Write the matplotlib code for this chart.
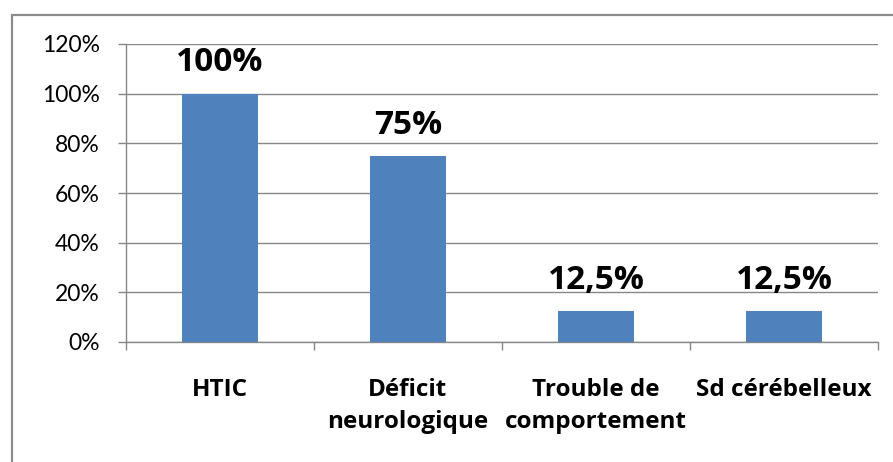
import matplotlib.pyplot as plt
from matplotlib.patches import Rectangle
from matplotlib.ticker import FixedLocator, PercentFormatter

categories = ["HTIC", "Déficit\nneurologique", "Trouble de\ncomportement", "Sd cérébelleux"]
values = [100, 75, 12.5, 12.5]
labels = ["100%", "75%", "12,5%", "12,5%"]

plt.rcParams['font.family'] = ['Lato', 'DejaVu Sans']
bold_font = ['Open Sans', 'DejaVu Sans']

fig = plt.figure(figsize=(8.93, 4.62), dpi=100)
ax = fig.add_axes([126 / 893, 1 - 342 / 462, (878 - 126) / 893, (342 - 44) / 462])

x = range(len(categories))
ax.bar(x, values, width=0.4, color="#4F81BD", zorder=3)

for xi, v, lab in zip(x, values, labels):
    ax.annotate(lab, (xi, v), xytext=(0, 16), textcoords="offset points",
                ha="center", va="baseline", fontsize=24, fontweight="bold",
                family=bold_font)

ax.set_xlim(-0.5, len(categories) - 0.5)
ax.set_ylim(0, 120)
ax.set_yticks(range(0, 121, 20))
ax.yaxis.set_major_formatter(PercentFormatter(decimals=0))
ax.grid(axis="y", color="#878787", linewidth=1, zorder=0)

ax.set_xticks(list(x))
ax.set_xticklabels(categories, fontsize=17.5, fontweight="bold", linespacing=1.45,
                   family=bold_font)
ax.xaxis.set_minor_locator(FixedLocator([i - 0.5 for i in range(len(categories) + 1)]))
ax.tick_params(axis="x", which="major", length=0, pad=26)
ax.tick_params(axis="x", which="minor", length=6, color="#878787", width=1)
ax.tick_params(axis="y", length=6, color="#878787", width=1, labelsize=16.5, pad=13)

for s in ["top", "right"]:
    ax.spines[s].set_visible(False)
for s in ["left", "bottom"]:
    ax.spines[s].set_color("#878787")
    ax.spines[s].set_linewidth(1)

# outer chart border
fig.patches.append(Rectangle((12 / 893, -0.1), 1.2, 1.1 - 15 / 462, transform=fig.transFigure,
                             fill=False, edgecolor="#8c8c8c", linewidth=1.6))

fig.savefig("out.png", dpi=100)
